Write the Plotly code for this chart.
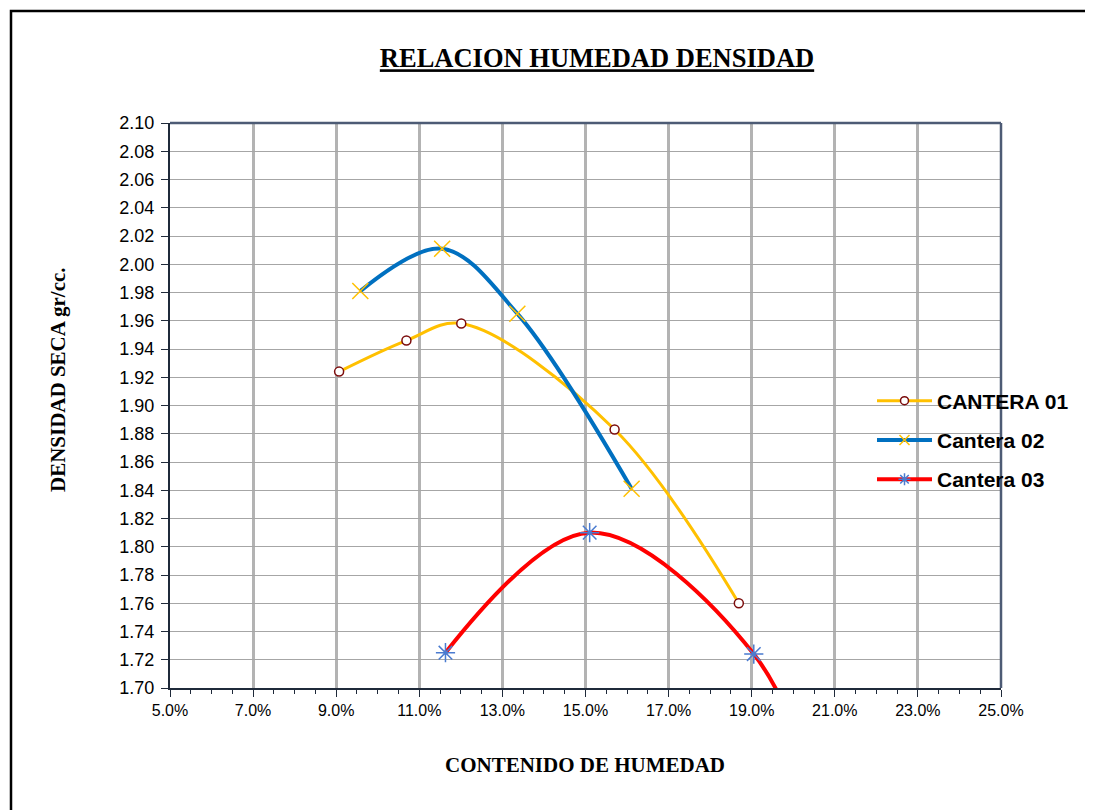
import plotly.graph_objects as go

# Data (moisture content as fraction, dry density g/cc)
w_c1 = [0.0907, 0.1069, 0.1201, 0.1570, 0.1869]
d_c1 = [1.924, 1.946, 1.958, 1.883, 1.760]

w_c2 = [0.0958, 0.1155, 0.1336, 0.1611]
d_c2 = [1.981, 2.011, 1.965, 1.841]

w_c3 = [0.1163, 0.1510, 0.1905, 0.2085]
d_c3 = [1.725, 1.810, 1.724, 1.600]

names = ["CANTERA 01", "Cantera 02", "Cantera 03"]

line_styles = [
    dict(color="#ffc000", width=3, shape="spline", smoothing=1),
    dict(color="#0070c0", width=4, shape="spline", smoothing=1),
    dict(color="#ff0000", width=4, shape="spline", smoothing=1),
]
marker_styles = [
    dict(symbol="circle", size=9, color="white", line=dict(color="#7b0c0c", width=1.5)),
    dict(symbol="x-thin-open", size=16, color="#ffc000", line=dict(color="#ffc000", width=1.5)),
    dict(symbol="asterisk-open", size=16, color="#4a7bd0", line=dict(color="#4a7bd0", width=1.5)),
]
legend_marker_sizes = [8, 10, 10]

fig = go.Figure()

for i, (xs, ys) in enumerate([(w_c1, d_c1), (w_c2, d_c2), (w_c3, d_c3)]):
    fig.add_trace(go.Scatter(
        x=xs, y=ys, name=names[i], mode="lines+markers",
        line=line_styles[i], marker=marker_styles[i],
        showlegend=False, legendgroup=f"g{i}"))

# legend entries (smaller symbols, as in the reference legend)
for i in range(3):
    mk = dict(marker_styles[i])
    mk["size"] = legend_marker_sizes[i]
    fig.add_trace(go.Scatter(
        x=[None], y=[None], name=names[i], mode="lines+markers",
        line=line_styles[i], marker=mk, showlegend=True, legendgroup=f"g{i}"))

axis_dark = "#1f2a3a"
frame_col = "#4d5b75"

# page body margin of 8px shifts the figure; compensate in margins
OFF = 8
fig.update_layout(
    width=1093, height=810,
    margin=dict(l=170 - OFF, r=92 + OFF, t=123 - OFF, b=122 + OFF),
    paper_bgcolor="white", plot_bgcolor="white",
    font=dict(family="Liberation Sans, Arial", color="black"),
    title=dict(text="<u><b>RELACION HUMEDAD DENSIDAD</b></u>",
               font=dict(family="Liberation Serif, Times New Roman", size=26.5, color="black"),
               x=(597 - OFF)/1093, xanchor="center", xref="container",
               y=1-(58 - OFF)/810, yanchor="middle", yref="container"),
    xaxis=dict(range=[0.05, 0.25], dtick=0.02, tick0=0.05, tickformat=".1%",
               showgrid=True, gridcolor="#b3b3b3", gridwidth=2.5,
               showline=True, linecolor=axis_dark, linewidth=2,
               ticks="outside", ticklen=7, tickcolor=axis_dark, tickwidth=1.2,
               tickfont=dict(size=16, color="black"),
               minor=dict(dtick=0.005, ticks="outside", ticklen=4,
                          tickcolor=axis_dark, tickwidth=1.2, showgrid=False),
               zeroline=False, fixedrange=True),
    yaxis=dict(range=[1.70, 2.10], dtick=0.02, tick0=1.70, tickformat=".2f",
               showgrid=True, gridcolor="#a6a6a6", gridwidth=1,
               showline=True, linecolor=axis_dark, linewidth=2,
               ticks="outside", ticklen=7, tickcolor=axis_dark, tickwidth=1.2,
               tickfont=dict(size=18, color="black"), ticklabelstandoff=3,
               zeroline=False, fixedrange=True),
    legend=dict(x=(872-170)/831, xanchor="left", y=(688-440)/565, yanchor="middle",
                bgcolor="rgba(0,0,0,0)", borderwidth=0,
                font=dict(family="Liberation Sans, Arial", size=21, color="black",
                          weight="bold"),
                itemwidth=55, tracegroupgap=9, itemsizing="trace"),
    showlegend=True,
)

fig.add_annotation(text="<b>CONTENIDO DE HUMEDAD</b>", xref="paper", yref="paper",
                   x=(585-170)/831, y=(688-765)/565, xanchor="center", yanchor="middle",
                   showarrow=False,
                   font=dict(family="Liberation Serif, Times New Roman", size=21, color="black"))
fig.add_annotation(text="<b>DENSIDAD SECA gr/cc.</b>", xref="paper", yref="paper",
                   x=(58-170)/831, y=(688-380)/565, xanchor="center", yanchor="middle",
                   textangle=-90, showarrow=False,
                   font=dict(family="Liberation Serif, Times New Roman", size=21, color="black"))

# plot-area top and right frame
fig.add_shape(type="line", xref="paper", yref="paper", x0=0, x1=1, y0=1, y1=1,
              line=dict(color=frame_col, width=2.5), layer="above")
fig.add_shape(type="line", xref="paper", yref="paper", x0=1, x1=1, y0=0, y1=1,
              line=dict(color=frame_col, width=2.5), layer="above")
# outer chart border
fig.add_shape(type="rect", xref="paper", yref="paper",
              x0=(11-170)/831, x1=(1120-170)/831,
              y0=(688-840)/565, y1=(688-11)/565,
              line=dict(color="black", width=2.5), fillcolor="rgba(0,0,0,0)", layer="above")

fig.write_html("out.html")
